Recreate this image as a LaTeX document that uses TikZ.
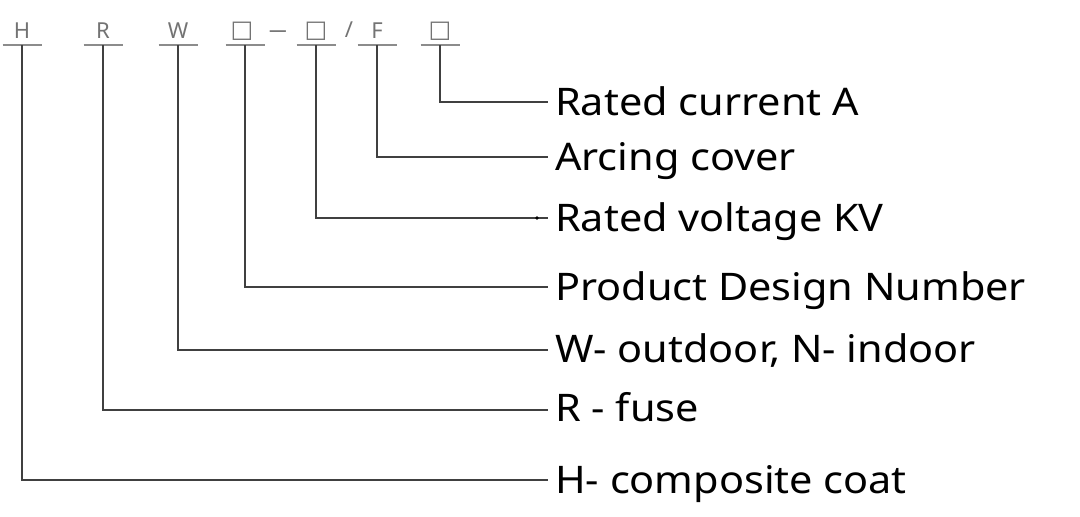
\documentclass[tikz,border=0pt]{standalone}
\usepackage{fontspec}
\setmainfont{Noto Sans}
\newfontfamily\labf[FakeStretch=1.09]{Noto Sans}
\newfontfamily\symf{DejaVu Sans}
\begin{document}
\begin{tikzpicture}[x=1pt,y=-1pt,
  code/.style={anchor=base,inner sep=0pt,text=black!55,font=\fontsize{22}{22}\selectfont},
  box/.style={code,font=\symf\fontsize{24}{24}\selectfont},
  uline/.style={draw=black!45,line width=1.3pt},
  conn/.style={draw=black!75,line width=1.4pt},
  lab/.style={anchor=base west,inner sep=0pt,text=black,font=\labf\fontsize{38}{38}\selectfont}]
\useasboundingbox (0,0) rectangle (1080,517);
% top codes
\node[code] (cH) at (22,38) {H};
\node[code] (cR) at (103,38) {R};
\node[code] (cW) at (178,38) {W};
\node[box] (cB1) at (242,37) {□};
\node[code] (cD) at (278,37) {\scalebox{0.8}[1]{—}};
\node[box] (cB2) at (316,37) {□};
\node[code] (cS) at (349,37) {/};
\node[code] (cF) at (377,38) {F};
\node[box] (cB3) at (440,37) {□};
% underlines
\foreach \n/\x in {H/22,R/103,W/178,B1/245,B2/316,F/377,B3/440}{
  \draw[uline] (\x-19.5,45) -- (\x+19.5,45);
  \coordinate (u\n) at (\x,45);
}
% line ends
\coordinate (eB3) at (548,102);
\coordinate (eF) at (548,157);
\coordinate (eB2) at (548,218);
\coordinate (eB1) at (548,287);
\coordinate (eW) at (548,350);
\coordinate (eR) at (548,410);
\coordinate (eH) at (548,480);
% labels
\node[lab] (lB3) at (555,115) {Rated current A};
\node[lab] (lF) at (555,170) {Arcing cover};
\node[lab] (lB2) at (555,231) {Rated voltage KV};
\node[lab] (lB1) at (555,300) {Product Design Number};
\node[lab] (lW) at (555,362) {W- outdoor, N- indoor};
\node[lab] (lR) at (555,421) {R - fuse};
\node[lab] (lH) at (555,493) {H- composite coat};
% connectors
\foreach \n in {H,R,W,B1,B2,F,B3}{
  \draw[conn] (u\n) |- (e\n);
}
\fill[black] (537,218) circle (1.8);
\end{tikzpicture}
\end{document}
